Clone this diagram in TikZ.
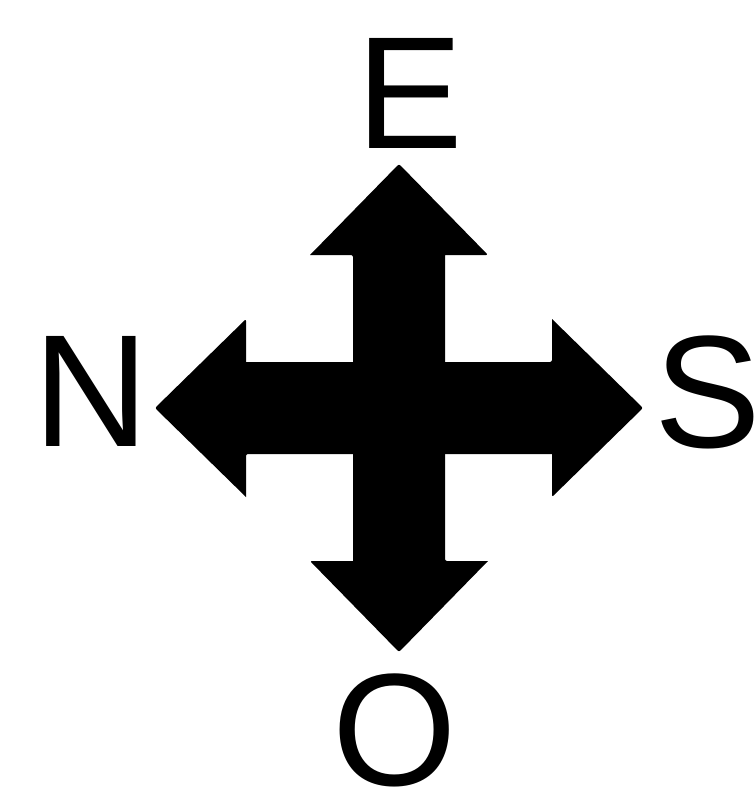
\documentclass[tikz,border=0pt]{standalone}
\usepackage{fontspec}
\setmainfont{Liberation Sans}
\usetikzlibrary{positioning}

\begin{document}
\begin{tikzpicture}[x=1pt,y=-1pt]
\tikzset{dirlabel/.style={font=\fontsize{160}{160}\selectfont,inner sep=0pt,anchor=base}}
\useasboundingbox (0,0) rectangle (755,788);
% 四方向の矢印
\begin{scope}[shift={(399,408)}]
\foreach \a in {0,90,180,270}
  \fill[rotate=\a,rounded corners=2pt] (-46,0) -- (-46,-153) [sharp corners] -- (-89,-153) [rounded corners=2pt] -- (0,-244) -- (89,-153) [sharp corners] -- (46,-153) -- (46,0) -- cycle;
\end{scope}

\node[dirlabel] (east) at (410,148) {E};
\node[dirlabel] (north) at (91,446) {N};
\node[dirlabel] (south) at (708,447) {S};
\node[dirlabel] (west) at (395,785) {O};
\end{tikzpicture}
\end{document}
